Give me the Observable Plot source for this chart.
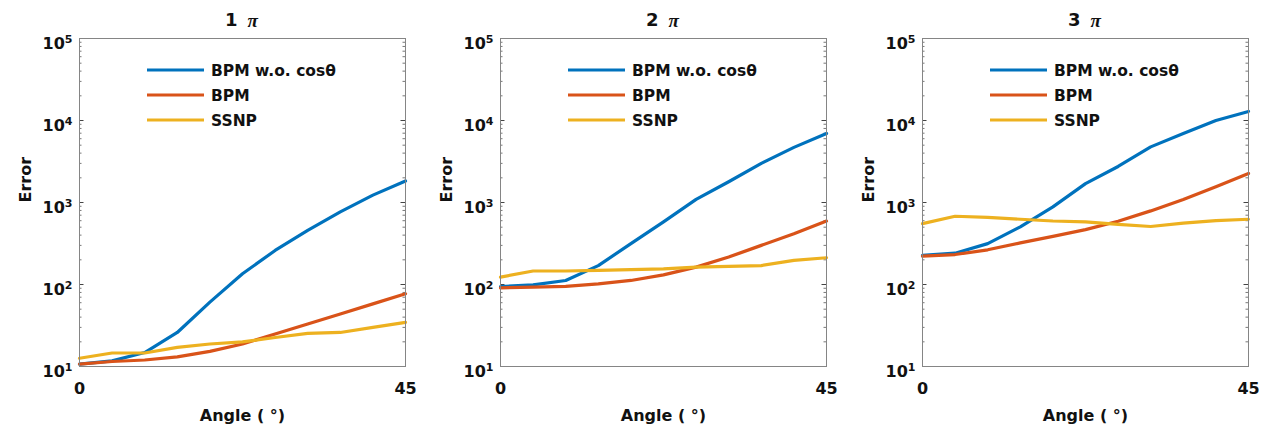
<!DOCTYPE html>
<html><head><meta charset="utf-8">
<script src="https://cdn.jsdelivr.net/npm/d3@7"></script>
<script src="https://cdn.jsdelivr.net/npm/@observablehq/plot@0.6"></script>
<style>
body{margin:0;background:#fff;}
#wrap{position:relative;width:1269px;height:433px;overflow:hidden;}
.panel{position:absolute;top:0;}
</style></head><body><div id="wrap"></div>
<script>
// ---- data ----
const angles = [0, 4.5, 9, 13.5, 18, 22.5, 27, 31.5, 36, 40.5, 45];
const panelTitles = ["1", "2", "3"];
const seriesNames = ["BPM w.o. cosθ", "BPM", "SSNP"];
const seriesColors = ["#0072BD", "#D95319", "#EDB120"];

const p1_bpmNoCos = [10.7, 11.7, 14.8, 26, 61, 135, 260, 457, 770, 1230, 1830];
const p1_bpm      = [10.7, 11.5, 12, 13.1, 15.3, 18.8, 24.9, 33, 43.7, 58, 77];
const p1_ssnp     = [12.6, 14.6, 14.6, 17.1, 18.8, 20, 22.6, 25.3, 26, 30, 34.5];

const p2_bpmNoCos = [94.6, 99, 112, 170, 315, 580, 1090, 1790, 3000, 4700, 6950];
const p2_bpm      = [91, 93, 95, 102, 112, 131, 163, 216, 300, 415, 593];
const p2_ssnp     = [123, 146, 146, 149, 152, 155, 163, 166, 170, 197, 212];

const p3_bpmNoCos = [226, 241, 315, 505, 885, 1700, 2750, 4770, 6950, 10000, 12900];
const p3_bpm      = [222, 232, 265, 322, 387, 467, 590, 790, 1090, 1560, 2260];
const p3_ssnp     = [552, 680, 660, 625, 595, 580, 540, 510, 560, 600, 625];

const yMajorTicks = [10, 100, 1000, 10000, 100000];
const xTicks = [0, 45];
const panelSeries = [
  [p1_bpmNoCos, p1_bpm, p1_ssnp],
  [p2_bpmNoCos, p2_bpm, p2_ssnp],
  [p3_bpmNoCos, p3_bpm, p3_ssnp]
];

// ---- layout ----
const panelLeft = [0, 421, 843];
const W = 423, H = 433, mL = 79, mT = 38, mB = 67, mR = 18;
const plotW = W - mL - mR;
const FONT = "'DejaVu Sans', Verdana, sans-serif";

const yMinorTicks = [];
for (const m of yMajorTicks.slice(0, -1)) for (let k = 2; k <= 9; k++) yMinorTicks.push(m * k);

const wrap = document.getElementById("wrap");

panelSeries.forEach((series, pi) => {
  const rows = [];
  series.forEach((vals, si) => vals.forEach((v, i) => rows.push({angle: angles[i], value: v, series: seriesNames[si]})));

  const plot = Plot.plot({
    width: W, height: H,
    marginLeft: mL, marginRight: mR, marginTop: mT, marginBottom: mB,
    style: {fontFamily: FONT, fontWeight: "bold", background: "#fff", overflow: "visible"},
    x: {domain: [0, 45]},
    y: {type: "log", domain: [10, 100000]},
    color: {domain: seriesNames, range: seriesColors},
    marks: [
      Plot.tickY(yMinorTicks, {y: d => d, insetRight: plotW - 2.5, stroke: "#555", strokeWidth: 0.8}),
      Plot.tickY(yMinorTicks, {y: d => d, insetLeft: plotW - 2.5, stroke: "#555", strokeWidth: 0.8}),
      Plot.tickY(yMajorTicks, {y: d => d, insetRight: plotW - 4.5, stroke: "#444", strokeWidth: 1}),
      Plot.tickY(yMajorTicks, {y: d => d, insetLeft: plotW - 4.5, stroke: "#444", strokeWidth: 1}),
      Plot.line(rows, {x: "angle", y: "value", stroke: "series", z: "series", strokeWidth: 3.2, strokeLinejoin: "round"}),
      Plot.frame({stroke: "#858585", strokeWidth: 1}),
      Plot.axisY({ticks: yMajorTicks, tickSize: 0, tickPadding: 7, dy: 5, fontSize: 16, fontWeight: "bold", fill: "#111",
                  tickFormat: d => "10^" + Math.round(Math.log10(d)), label: null}),
      Plot.axisX({ticks: xTicks, tickSize: 0, tickPadding: 16, fontSize: 16, fontWeight: "bold", fill: "#111",
                  tickFormat: d => String(d), label: null}),
      Plot.text(["Error"], {frameAnchor: "left", dx: -54, rotate: -90, lineAnchor: "middle", fontSize: 16, fontWeight: "bold", fill: "#111"}),
      Plot.text(["Angle ( °)"], {frameAnchor: "bottom", dy: 49, lineAnchor: "middle", fontSize: 16, fontWeight: "bold", fill: "#111"}),
      Plot.text([panelTitles[pi]], {frameAnchor: "top", dy: -18, dx: -5, lineAnchor: "middle", textAnchor: "end", fontSize: 18, fontWeight: "bold", fill: "#111"}),
      Plot.text(["π"], {frameAnchor: "top", dy: -18, dx: 5, lineAnchor: "middle", textAnchor: "start", fontSize: 19, fontWeight: "bold", fontStyle: "italic", fontFamily: "'Liberation Serif', 'DejaVu Serif', serif", fill: "#111"})
    ]
  });

  const svg = d3.select(plot);
  // superscript exponents for log tick labels
  svg.selectAll('g[aria-label="y-axis tick label"] text').each(function () {
    const t = d3.select(this);
    const s = t.text();
    const parts = s.split("^");
    if (parts.length !== 2) return;
    t.text("");
    t.append("tspan").text(parts[0]);
    t.append("tspan").attr("dy", "-0.5em").attr("font-size", 11).text(parts[1]);
  });

  // legend inside the axes
  const lg = svg.append("g").attr("font-family", FONT).attr("font-weight", "bold")
    .attr("font-size", 15.5).attr("text-anchor", "start");
  seriesNames.forEach((name, si) => {
    const yy = mT + 32 + si * 25;
    lg.append("line").attr("x1", mL + 68).attr("x2", mL + 125).attr("y1", yy).attr("y2", yy)
      .attr("stroke", seriesColors[si]).attr("stroke-width", 3.2);
    lg.append("text").attr("x", mL + 132).attr("y", yy).attr("dy", "0.36em").attr("fill", "#111").text(name);
  });

  const div = document.createElement("div");
  div.className = "panel";
  div.style.left = panelLeft[pi] + "px";
  div.appendChild(plot);
  wrap.appendChild(div);
});
</script>
</body></html>
